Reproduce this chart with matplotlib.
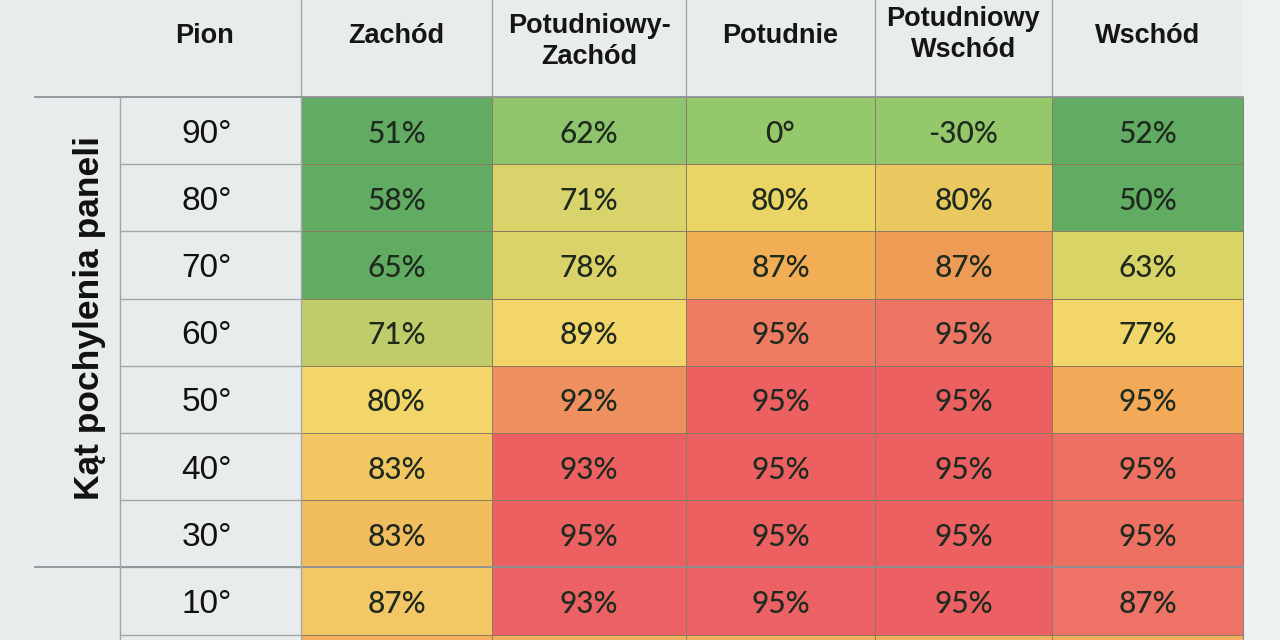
import matplotlib.pyplot as plt
from matplotlib.patches import Rectangle

# table content
columns = ["Pion", "Zachód", "Potudniowy-\nZachód", "Potudnie", "Potudniowy\nWschód", "Wschód"]
tilts = ["90°", "80°", "70°", "60°", "50°", "40°", "30°", "10°", ""]
zachod = ["51%", "58%", "65%", "71%", "80%", "83%", "83%", "87%", ""]
pd_zachod = ["62%", "71%", "78%", "89%", "92%", "93%", "95%", "93%", ""]
potudnie = ["0°", "80%", "87%", "95%", "95%", "95%", "95%", "95%", ""]
pd_wschod = ["-30%", "80%", "87%", "95%", "95%", "95%", "95%", "95%", ""]
wschod = ["52%", "50%", "63%", "77%", "95%", "95%", "95%", "87%", ""]
y_title = "Kąt pochylenia paneli"

# cell colours (row by row, same order as the columns)
cell_colors = [
    ["#62ab63", "#8ec46b", "#95c76b", "#95c76b", "#62ab63"],
    ["#62ab63", "#d8d36a", "#ebd466", "#e8c85f", "#62ab63"],
    ["#62ab63", "#dbd36a", "#f2ae55", "#ee9c55", "#d8d466"],
    ["#c0cc6a", "#f2d66a", "#ee7b62", "#ee7565", "#f2d66a"],
    ["#f2d66a", "#ee9060", "#ec6062", "#ec6062", "#f2a958"],
    ["#f2c762", "#ec6062", "#ec6062", "#ec6062", "#ee7062"],
    ["#f2bd5e", "#ec6062", "#ec6062", "#ec6062", "#ee7062"],
    ["#f2c765", "#ec6264", "#ec6264", "#ec6064", "#ee7266"],
    ["#f4ae5e", "#f4ae5e", "#f4ae5e", "#f4ae5e", "#f4ae5e"],
]

values = [zachod, pd_zachod, potudnie, pd_wschod, wschod]

# layout (pixels)
col_edges = [120, 301, 492, 686, 875, 1052, 1243]
header_base = [43, 43, 33, 43, 26, 43]   # baseline of the first header line
header_step = 31
header_h = 97
row_h = 67.2
bg = "#e9eced"
line_col = "#a3a7aa"

fig = plt.figure(figsize=(12.8, 6.4), dpi=100)
fig.patch.set_facecolor(bg)
ax = fig.add_axes([0, 0, 1, 1])
ax.set_xlim(0, 1280)
ax.set_ylim(640, 0)
ax.axis("off")

# right margin strip
ax.add_patch(Rectangle((col_edges[-1], 0), 1280 - col_edges[-1], 640, color="#eef1f2", zorder=0))

# header labels
for j, name in enumerate(columns):
    xc = (col_edges[j] + col_edges[j + 1]) / 2
    if j == 0:
        xc -= 6
    for k, line in enumerate(name.split("\n")):
        ax.text(xc, header_base[j] + k * header_step, line, ha="center", va="baseline",
                fontsize=19.5, fontweight="bold", family="Liberation Sans", color="#151515")

# header vertical lines
for x in col_edges[1:-1]:
    ax.plot([x, x], [0, header_h], color=line_col, lw=1.0)

# body cells
for i, tilt in enumerate(tilts):
    y0 = header_h + i * row_h
    yc = y0 + row_h / 2
    ax.text((col_edges[0] + col_edges[1]) / 2 - 4, yc + 12, tilt, ha="center", va="baseline",
            fontsize=24, family="Liberation Sans", color="#111111")
    for j in range(5):
        x0 = col_edges[j + 1]
        ax.add_patch(Rectangle((x0, y0), col_edges[j + 2] - x0, row_h,
                               facecolor=cell_colors[i][j], edgecolor="#8b7a62",
                               lw=0.7, zorder=1))
        ax.text((x0 + col_edges[j + 2]) / 2, yc + 12, values[j][i], ha="center", va="baseline",
                fontsize=21.5, family="Lato", fontweight="medium", color="#1f2a1e", zorder=3)

# label column grid
n_rows = len(tilts)
for i in range(1, n_rows):
    y = header_h + i * row_h
    ax.plot([col_edges[0], col_edges[1]], [y, y], color=line_col, lw=1.0, zorder=2)
ax.plot([35, col_edges[-1]], [header_h, header_h], color="#8f9396", lw=1.3, zorder=2)
ax.plot([35, col_edges[-1]], [header_h + 7 * row_h] * 2, color="#8f9396", lw=1.3, zorder=2)
ax.plot([col_edges[0], col_edges[0]], [header_h, 640], color=line_col, lw=1.0, zorder=2)
ax.plot([col_edges[1], col_edges[1]], [header_h, 640], color=line_col, lw=1.0, zorder=2)

# rotated axis title
ax.text(90, 318, y_title, rotation=90, ha="center", va="center",
        fontsize=25.5, fontweight="bold", family="Liberation Sans", color="#111111")

plt.savefig("out.png", dpi=100, facecolor=bg)
